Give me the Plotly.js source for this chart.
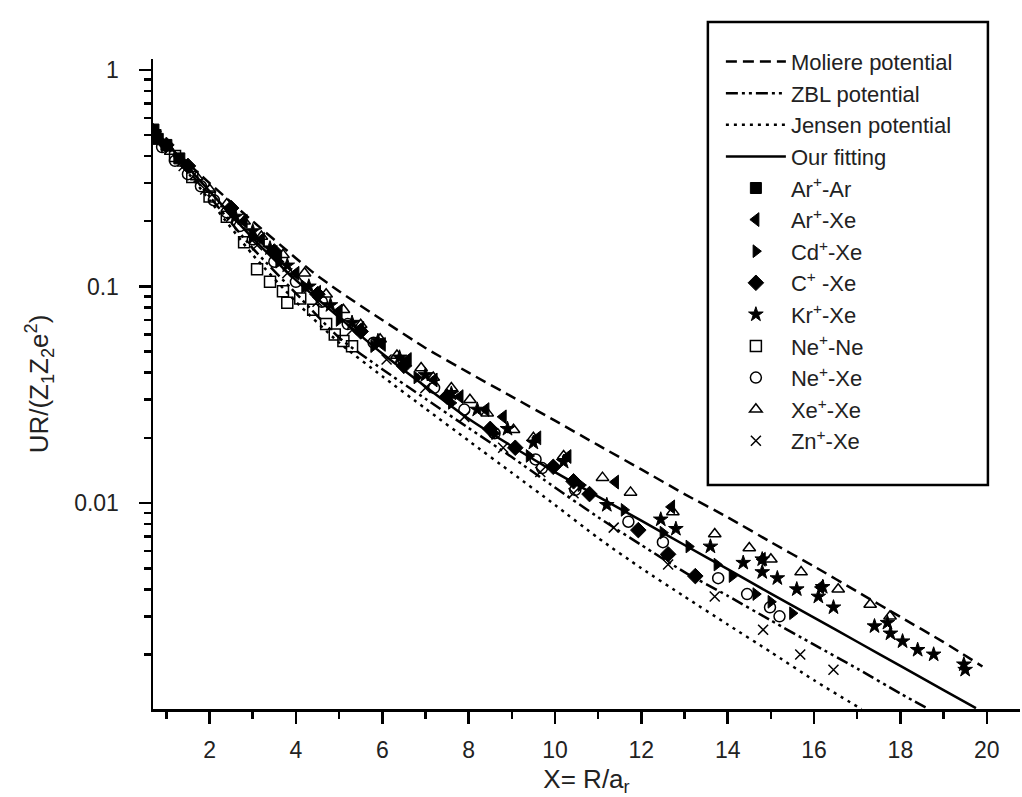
<!DOCTYPE html>
<html>
<head>
<meta charset="utf-8">
<script src="https://cdn.plot.ly/plotly-3.0.1.min.js"></script>
<style>html,body{margin:0;padding:0;background:#fff;}#chart{width:1022px;height:797px;}</style>
</head>
<body>
<div id="chart"></div>
<script>
// ---- curve data ----
const molX = [0.7, 1, 1.5, 2, 3, 4, 4.4, 5, 6, 7, 8, 9, 10, 11, 12, 13, 14, 15, 16, 17, 18, 19, 19.9];
const molY = [0.53, 0.46, 0.37, 0.30, 0.20, 0.135, 0.116, 0.095, 0.070, 0.052, 0.040, 0.031, 0.024, 0.0185, 0.0143, 0.0110, 0.0086, 0.0066, 0.0051, 0.0039, 0.00298, 0.00228, 0.00176];

const zblX = [0.7, 1, 1.5, 2, 3, 4, 5, 6, 7, 8, 9, 10, 11, 12, 13, 14, 15, 16, 17, 18, 18.65];
const zblY = [0.52, 0.45, 0.345, 0.26, 0.15, 0.093, 0.058, 0.0415, 0.0303, 0.0222, 0.0163, 0.0118, 0.0086, 0.0064, 0.0048, 0.00373, 0.00287, 0.00222, 0.00172, 0.00132, 0.00112];

const jenX = [0.7, 1, 1.5, 2, 3, 4, 5, 6, 7, 8, 9, 10, 11, 12, 13, 14, 15, 16, 17, 17.1];
const jenY = [0.52, 0.44, 0.335, 0.25, 0.14, 0.085, 0.055, 0.0385, 0.0273, 0.0194, 0.0138, 0.0098, 0.0069, 0.0050, 0.0037, 0.00275, 0.00205, 0.00152, 0.00115, 0.00112];

const fitX = [0.7, 1, 1.5, 2, 3, 4, 5, 6, 7, 8, 9, 10, 11, 12, 13, 14, 15, 16, 17, 18, 19, 19.75];
const fitY = [0.53, 0.46, 0.355, 0.275, 0.167, 0.107, 0.072, 0.049, 0.0345, 0.0245, 0.0183, 0.0139, 0.0107, 0.0083, 0.0064, 0.00495, 0.00382, 0.00296, 0.00229, 0.00177, 0.00137, 0.00113];

// ---- measured points ----
const arArX = [0.7, 0.75, 0.8, 1.0, 1.3];
const arArY = [0.53, 0.50, 0.48, 0.45, 0.39];

const arXeX = [2.8, 3.2, 3.6, 4.0, 4.5, 5.0, 5.5, 6.0, 6.6, 7.2, 7.8, 8.4, 8.8, 9.6, 10.3, 11.4, 12.7, 14.8, 16.15];
const arXeY = [0.20, 0.165, 0.135, 0.115, 0.094, 0.077, 0.064, 0.054, 0.046, 0.037, 0.031, 0.027, 0.025, 0.020, 0.0164, 0.0125, 0.0096, 0.0055, 0.0041];

const cdXeX = [3.0, 3.6, 4.2, 5.0, 5.8, 6.8, 7.6, 8.6, 9.4, 10.6, 11.6, 12.5, 13.1, 13.75, 14.1, 14.65, 15.0, 15.5];
const cdXeY = [0.17, 0.13, 0.10, 0.07, 0.053, 0.038, 0.029, 0.021, 0.0165, 0.0121, 0.0093, 0.0073, 0.0063, 0.0052, 0.0046, 0.0038, 0.0035, 0.0031];

const cXeX = [0.7, 1.0, 1.5, 2.5, 3.5, 4.5, 5.5, 6.5, 7.5, 8.5, 9.08, 9.96, 10.43, 10.8, 11.93, 12.62, 13.25];
const cXeY = [0.52, 0.45, 0.36, 0.23, 0.145, 0.092, 0.062, 0.043, 0.031, 0.022, 0.018, 0.0147, 0.0126, 0.011, 0.0075, 0.0058, 0.0046];

const krXeX = [2.6, 3.0, 3.4, 3.8, 4.3, 4.8, 5.3, 5.9, 6.4, 7.0, 7.6, 8.2, 8.9, 9.5, 10.2, 11.2, 12.45, 12.8, 13.6, 14.36, 14.8, 14.8, 15.15, 15.6, 16.1, 16.2, 16.45, 17.4, 17.7, 17.77, 18.05, 18.4, 18.77, 19.47, 19.5];
const krXeY = [0.21, 0.18, 0.15, 0.125, 0.10, 0.082, 0.068, 0.056, 0.047, 0.039, 0.032, 0.027, 0.022, 0.019, 0.0155, 0.0098, 0.0084, 0.0076, 0.0063, 0.0053, 0.0055, 0.0048, 0.0045, 0.0040, 0.0037, 0.0041, 0.0033, 0.0027, 0.0028, 0.0025, 0.0023, 0.0021, 0.0020, 0.0018, 0.0017];

const neNeX = [1.2, 1.6, 2.0, 2.4, 2.8, 3.1, 3.4, 3.7, 3.8, 4.1, 4.4, 4.7, 4.9, 5.1, 5.3];
const neNeY = [0.40, 0.32, 0.26, 0.21, 0.16, 0.12, 0.105, 0.095, 0.084, 0.088, 0.078, 0.067, 0.060, 0.056, 0.053];

const neXeX = [0.9, 1.2, 1.5, 1.8, 2.1, 2.4, 2.7, 3.0, 3.5, 4.0, 4.6, 5.2, 5.8, 6.5, 7.2, 7.9, 8.6, 9.55, 9.7, 10.47, 11.7, 12.5, 13.78, 14.45, 14.98, 15.2];
const neXeY = [0.44, 0.38, 0.33, 0.29, 0.25, 0.22, 0.19, 0.165, 0.13, 0.105, 0.085, 0.067, 0.055, 0.044, 0.034, 0.027, 0.021, 0.0159, 0.0145, 0.0115, 0.0082, 0.0066, 0.0045, 0.0038, 0.0033, 0.0030];

const xeXeX = [0.8, 1.1, 1.4, 1.7, 2.0, 2.4, 2.8, 3.2, 3.7, 4.2, 4.7, 5.1, 5.5, 5.95, 6.34, 6.9, 7.18, 7.6, 8.03, 8.43, 9.04, 9.5, 10.2, 11.1, 11.75, 12.73, 13.7, 14.5, 15.0, 15.7, 16.56, 17.3, 17.76];
const xeXeY = [0.48, 0.42, 0.37, 0.32, 0.28, 0.24, 0.20, 0.17, 0.14, 0.115, 0.092, 0.078, 0.0665, 0.057, 0.048, 0.042, 0.038, 0.034, 0.030, 0.026, 0.0218, 0.020, 0.0165, 0.0131, 0.0112, 0.0091, 0.0072, 0.0062, 0.0055, 0.0048, 0.0040, 0.0034, 0.0030];

const znXeX = [1.0, 1.4, 1.9, 2.5, 3.1, 3.8, 4.5, 5.3, 6.1, 7.0, 7.9, 8.8, 9.66, 10.43, 11.36, 12.62, 13.7, 14.82, 15.68, 16.45];
const znXeY = [0.44, 0.36, 0.28, 0.21, 0.155, 0.115, 0.085, 0.063, 0.046, 0.034, 0.025, 0.018, 0.0139, 0.0111, 0.0077, 0.0052, 0.0037, 0.0026, 0.0020, 0.0017];

// ---- axis ticks ----
const xTickVals = [2, 4, 6, 8, 10, 12, 14, 16, 18, 20];
const yTickVals = [0.01, 0.1, 1];
const yTickText = ['0.01', '0.1', '1'];
const yMinorMantissas = [2, 3, 4, 5, 6, 7, 8, 9];
const yDecades = [0.001, 0.01, 0.1];

const FONT = 'Liberation Sans, Arial, Helvetica, sans-serif';
const yMinorVals = [];
yDecades.forEach(d => yMinorMantissas.forEach(m => yMinorVals.push(m * d)));

function lineTrace(name, x, y, dash) {
  return {x: x, y: y, name: name, type: 'scatter', mode: 'lines', cliponaxis: true,
    line: {color: 'black', width: 2.5, dash: dash, shape: 'spline', smoothing: 0.6}};
}
function markTrace(name, x, y, symbol, size, lw) {
  return {x: x, y: y, name: name, type: 'scatter', mode: 'markers',
    marker: {symbol: symbol, size: size, color: 'black', line: {color: 'black', width: lw}}};
}

const traces = [
  lineTrace('Moliere potential', molX, molY, '11px,6px'),
  lineTrace('ZBL potential', zblX, zblY, '12px,4px,3px,4px,3px,4px'),
  lineTrace('Jensen potential', jenX, jenY, '3px,5px'),
  lineTrace('Our fitting', fitX, fitY, 'solid'),
  markTrace('Ar<sup>+</sup>-Ar', arArX, arArY, 'square', 11, 1),
  markTrace('Ar<sup>+</sup>-Xe', arXeX, arXeY, 'triangle-left', 12, 1),
  markTrace('Cd<sup>+</sup>-Xe', cdXeX, cdXeY, 'triangle-right', 11, 1),
  markTrace('C<sup>+</sup> -Xe', cXeX, cXeY, 'diamond', 12, 1),
  markTrace('Kr<sup>+</sup>-Xe', krXeX, krXeY, 'star', 11, 1),
  markTrace('Ne<sup>+</sup>-Ne', neNeX, neNeY, 'square-open', 11, 1.5),
  markTrace('Ne<sup>+</sup>-Xe', neXeX, neXeY, 'circle-open', 11, 1.5),
  markTrace('Xe<sup>+</sup>-Xe', xeXeX, xeXeY, 'triangle-up-open', 11, 1.5),
  markTrace('Zn<sup>+</sup>-Xe', znXeX, znXeY, 'x-thin-open', 10, 1.5)
];

const layout = {
  width: 1022, height: 797,
  margin: {l: 153, r: 2, t: 59, b: 88},
  paper_bgcolor: 'white', plot_bgcolor: 'white',
  font: {family: FONT, color: 'black', size: 22},
  showlegend: true,
  legend: {
    x: 0.655, y: 1.028, xanchor: 'left', yanchor: 'top',
    bgcolor: 'rgba(0,0,0,0)', borderwidth: 0,
    font: {family: FONT, size: 22, color: '#222'},
    itemwidth: 60, tracegroupgap: 0, maxheight: 700
  },
  shapes: [{type: 'rect', xref: 'paper', yref: 'paper', x0: 0.640, x1: 0.963, y0: 0.3446, y1: 1.057,
    line: {color: 'black', width: 2.5}, fillcolor: 'rgba(0,0,0,0)'}],
  xaxis: {
    range: [0.69, 20.77], showgrid: false, zeroline: false,
    showline: true, linecolor: 'black', linewidth: 2.5,
    ticks: 'outside', ticklen: 12, tickwidth: 2.5, tickcolor: 'black',
    tickmode: 'array', tickvals: xTickVals,
    ticklabelstandoff: 7,
    tickfont: {family: FONT, size: 23, color: '#222'},
    minor: {ticks: 'outside', ticklen: 7, tickwidth: 2.5, tickcolor: 'black', tick0: 0, dtick: 1, showgrid: false},
    title: {text: 'X= R/a<sub>r</sub>', font: {family: FONT, size: 26, color: '#222'}, standoff: 9}
  },
  yaxis: {
    type: 'log', range: [Math.log10(0.00112), 0.05], showgrid: false, zeroline: false,
    showline: true, linecolor: 'black', linewidth: 2.5,
    ticks: 'outside', ticklen: 12, tickwidth: 2.5, tickcolor: 'black',
    tickmode: 'array', tickvals: yTickVals, ticktext: yTickText,
    ticklabelstandoff: 15,
    tickfont: {family: FONT, size: 23, color: '#222'},
    minor: {ticks: 'outside', ticklen: 7, tickwidth: 2.5, tickcolor: 'black', tickmode: 'array', tickvals: yMinorVals, showgrid: false},
    title: {text: 'UR/(Z<sub>1</sub>Z<sub>2</sub>e<sup>2</sup>)', font: {family: FONT, size: 26, color: '#222'}, standoff: 18}
  }
};

Plotly.newPlot('chart', traces, layout, {displayModeBar: false, staticPlot: true});
</script>
</body>
</html>
